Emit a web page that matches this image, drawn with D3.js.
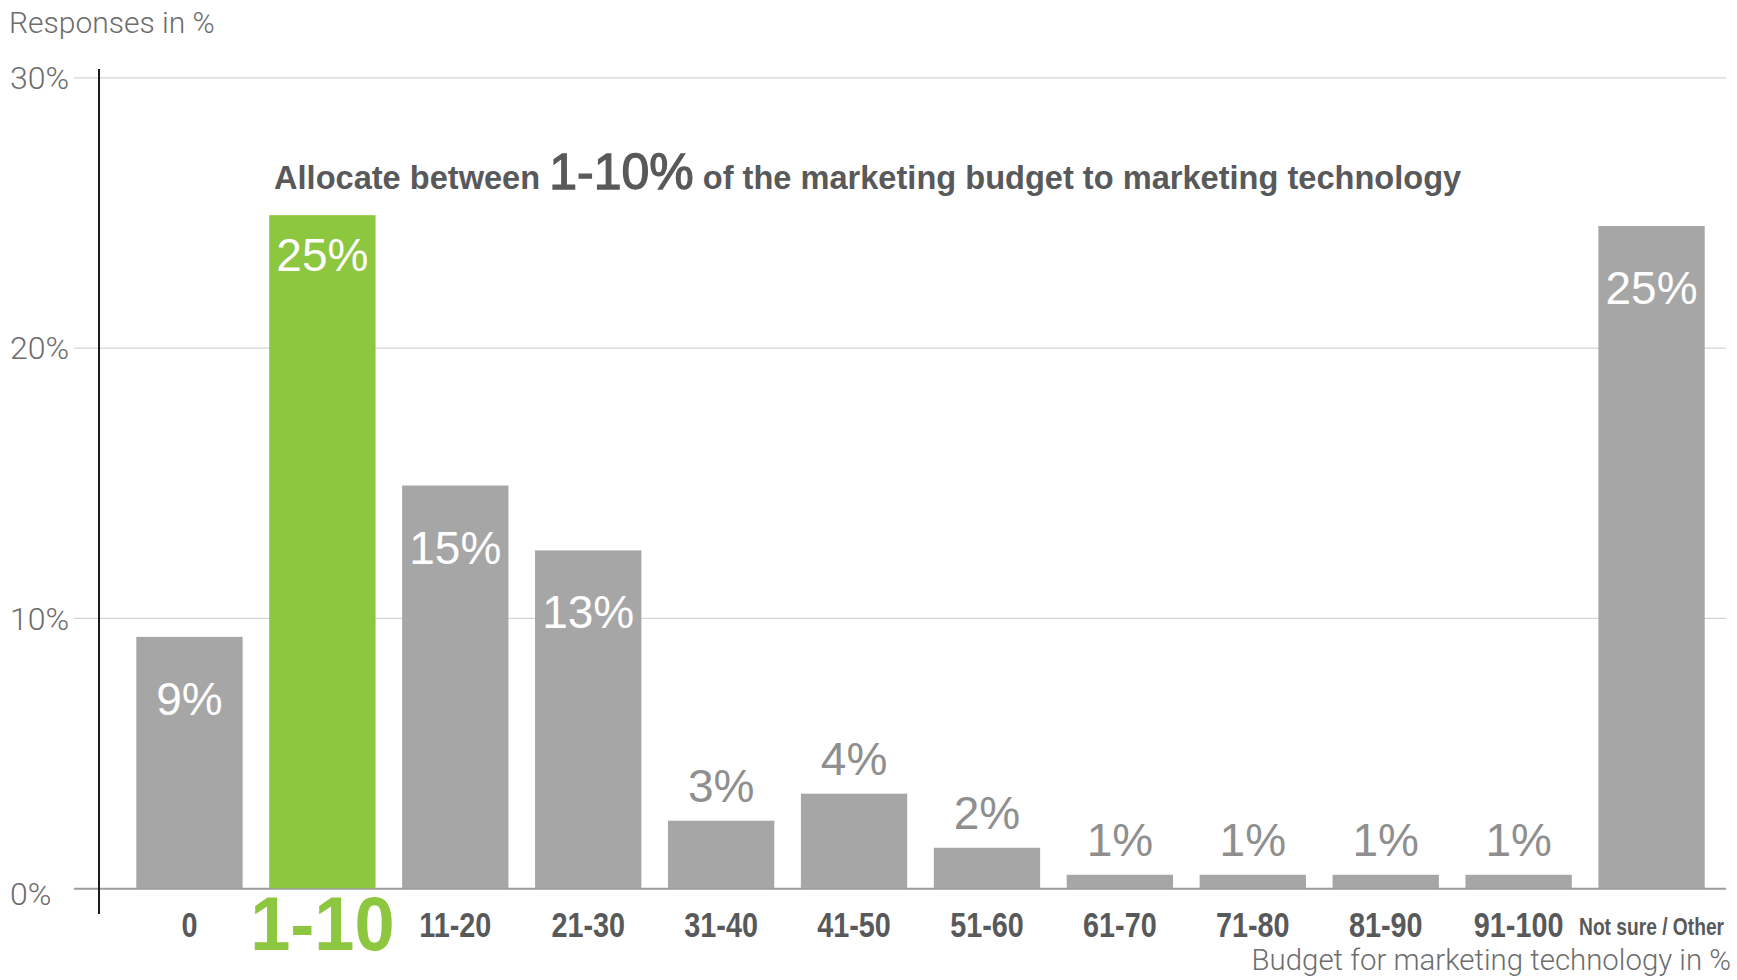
<!DOCTYPE html>
<html>
<head>
<meta charset="utf-8">
<script src="https://cdn.jsdelivr.net/npm/d3@7"></script>
<style>
  html, body { margin: 0; padding: 0; background: #ffffff; }
  svg { display: block; }
</style>
</head>
<body>
<svg id="chart" width="1737" height="980"></svg>
<script>
// Budget share bands (x axis) and share of responses per band (%)
const categories = ["0", "1-10", "11-20", "21-30", "31-40", "41-50", "51-60",
                    "61-70", "71-80", "81-90", "91-100", "Not sure / Other"];
const responses = [9.3, 24.9, 14.9, 12.5, 2.5, 3.5, 1.5, 0.5, 0.5, 0.5, 0.5, 24.5];
const highlighted = "1-10";

const yTicks = [0, 10, 20, 30];
const yTickLabels = ["0%", "10%", "20%", "30%"];

const yTitle = "Responses in %";
const xTitle = "Budget for marketing technology in %";
const headlineParts = [
  { text: "Allocate between ", big: false },
  { text: "1-10%", big: true },
  { text: " of the marketing budget to marketing technology", big: false }
];

const W = 1737, H = 980;
const GREEN = "#8dc63f", BAR = "#a6a6a6", DARK = "#58595b";
const SANS = "'Liberation Sans', Arial, Helvetica, sans-serif";
const LIGHT = "Roboto, 'Liberation Sans', sans-serif";

const svg = d3.select("#chart");

const x = d3.scaleBand()
  .domain(categories)
  .range([123, 1718])
  .paddingInner(0.2)
  .paddingOuter(0.1);

const y = d3.scaleLinear()
  .domain([0, 30])
  .range([888.3, 77.3]);

const gridLeft = 74, gridRight = 1726;

// Horizontal gridlines with left-aligned percentage labels
const yAxis = svg.append("g")
  .attr("transform", `translate(${gridLeft},0)`)
  .call(d3.axisLeft(y)
    .tickValues(yTicks)
    .tickFormat((d, i) => yTickLabels[i])
    .tickSize(-(gridRight - gridLeft))
    .tickPadding(0));
yAxis.select(".domain").remove();
yAxis.selectAll(".tick line")
  .attr("stroke", d => d === 0 ? "#9d9d9d" : "#d4d4d4")
  .attr("stroke-width", d => d === 0 ? 2 : 1.2);
yAxis.selectAll(".tick text")
  .attr("x", 10 - gridLeft)
  .attr("dy", d => d === 0 ? "0.5em" : "0.35em")
  .attr("text-anchor", "start")
  .style("font-family", LIGHT)
  .style("font-weight", 300)
  .style("font-size", "32px")
  .attr("fill", "#6d6d6d");

// Bars
svg.append("g")
  .selectAll("rect")
  .data(categories)
  .join("rect")
  .attr("x", d => x(d))
  .attr("width", x.bandwidth())
  .attr("y", (d, i) => y(responses[i]))
  .attr("height", (d, i) => y(0) - y(responses[i]))
  .attr("fill", d => d === highlighted ? GREEN : BAR);

// Value labels: inside tall bars, above short ones
svg.append("g")
  .selectAll("text")
  .data(categories)
  .join("text")
  .attr("x", d => x(d) + x.bandwidth() / 2)
  .attr("y", (d, i) => {
    const v = responses[i];
    if (v < 5) return y(v) - 19;
    return y(v) + (d === highlighted ? 56 : 78);
  })
  .attr("text-anchor", "middle")
  .style("font-family", SANS)
  .style("font-size", "46px")
  .attr("fill", (d, i) => responses[i] < 5 ? "#8f8f8f" : "#ffffff")
  .text((d, i) => Math.round(responses[i]) + "%");

// Vertical axis line
svg.append("line")
  .attr("x1", 99).attr("x2", 99)
  .attr("y1", 69).attr("y2", 914)
  .attr("stroke", "#1a1a1a")
  .attr("stroke-width", 2);

// Category labels (condensed by horizontal scaling)
const xAxis = svg.append("g")
  .attr("transform", `translate(0,${y(0)})`)
  .call(d3.axisBottom(x).tickSize(0));
xAxis.select(".domain").remove();
xAxis.selectAll(".tick text")
  .attr("dy", 0)
  .attr("y", d => d === highlighted ? 62 : (d === "Not sure / Other" ? 47 : 49))
  .attr("transform", d => d === highlighted ? "scale(0.95,1)" : "scale(0.8,1)")
  .style("font-family", SANS)
  .style("font-weight", "bold")
  .style("font-size", d => d === highlighted ? "76px" : (d === "Not sure / Other" ? "24px" : "36px"))
  .attr("fill", d => d === highlighted ? GREEN : DARK);

// Axis titles
svg.append("text")
  .attr("x", 9).attr("y", 33)
  .style("font-family", LIGHT)
  .style("font-weight", 300)
  .style("font-size", "30px")
  .attr("fill", "#6d6d6d")
  .text(yTitle);

svg.append("text")
  .attr("x", 1731).attr("y", 970)
  .attr("text-anchor", "end")
  .style("font-family", LIGHT)
  .style("font-weight", 300)
  .style("font-size", "29.4px")
  .attr("fill", "#6d6d6d")
  .text(xTitle);

// Headline
const headline = svg.append("text")
  .attr("x", 274).attr("y", 189)
  .attr("fill", DARK)
  .style("font-family", SANS);
headline.selectAll("tspan")
  .data(headlineParts)
  .join("tspan")
  .style("font-size", d => d.big ? "50px" : "32.6px")
  .style("font-weight", d => d.big ? "normal" : "bold")
  .attr("stroke", d => d.big ? DARK : "none")
  .attr("stroke-width", d => d.big ? 1.3 : 0)
  .attr("xml:space", "preserve")
  .text(d => d.text);
</script>
</body>
</html>
